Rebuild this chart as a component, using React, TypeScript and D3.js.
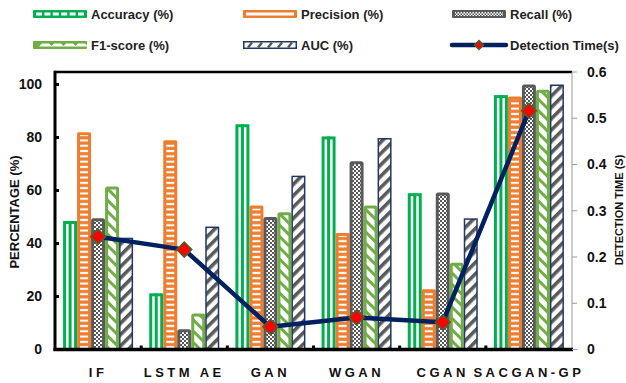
import React from "react";
import * as d3 from "d3";

const categories = ["IF", "LSTM AE", "GAN", "WGAN", "CGAN", "SACGAN-GP"];
const accuracy = [48.5, 21.2, 85, 80.4, 59, 96];
const precision = [82, 79, 54.3, 44, 22.7, 95.5];
const recall = [49.5, 7.6, 50, 71, 59.2, 100];
const f1score = [61.5, 13.6, 51.8, 54.3, 32.7, 98];
const auc = [42.2, 46.4, 65.6, 79.8, 49.5, 100];
const detectionTime = [0.244, 0.216, 0.049, 0.069, 0.059, 0.516];
const leftTicks = [0, 20, 40, 60, 80, 100];
const rightTicks = [0, 0.1, 0.2, 0.3, 0.4, 0.5, 0.6];

const W = 626;
const H = 383;
const plot = { left: 55, right: 572, top: 72, bottom: 349.5 };
const FONT = "'Liberation Sans', Arial, sans-serif";

const GREEN = "#00b050";
const ORANGE = "#ed7d31";
const GRAY = "#595959";
const LGREEN = "#70ad47";
const NAVY = "#1f3864";
const LINE = "#002060";

export default function App() {
  const x = d3.scaleBand<string>().domain(categories).range([plot.left, plot.right]);
  const yL = d3.scaleLinear().domain([0, 100]).range([plot.bottom, 84.5]);
  const yR = d3.scaleLinear().domain([0, 0.6]).range([plot.bottom, plot.top]);
  const bw = 14;
  const cx = (c: string) => (x(c) as number) + x.bandwidth() / 2;
  const bx = (c: string, i: number) => cx(c) + (i - 2) * bw - bw / 2;

  const line = d3
    .line<number>()
    .x((_, i) => cx(categories[i]))
    .y((d) => yR(d));

  const diamond = (px: number, py: number, r: number) =>
    `M${px},${py - r}L${px + r},${py}L${px},${py + r}L${px - r},${py}Z`;

  const bars: React.ReactNode[] = [];
  categories.forEach((c, ci) => {
    // Accuracy: outlined with a centre stripe
    {
      const x0 = bx(c, 0);
      const y0 = yL(accuracy[ci]);
      const h = plot.bottom - y0;
      bars.push(
        <g key={`a${ci}`}>
          <rect x={x0 + 1.5} y={y0 + 1.5} width={bw - 3} height={h - 1.5} fill="#fff" stroke={GREEN} strokeWidth={3} />
          <rect x={x0 + bw / 2 - 1.5} y={y0} width={3} height={h} fill={GREEN} />
        </g>
      );
    }
    // Precision: orange with white horizontal bars
    {
      const x0 = bx(c, 1);
      const y0 = yL(precision[ci]);
      const h = plot.bottom - y0;
      bars.push(
        <g key={`p${ci}`}>
          <rect x={x0} y={y0} width={bw} height={h} fill={ORANGE} rx={1.5} />
          <rect x={x0 + 3} y={y0 + 3} width={bw - 6} height={h - 3} fill="url(#hstripe)" />
        </g>
      );
    }
    // Recall: checkerboard
    {
      const x0 = bx(c, 2);
      const y0 = yL(recall[ci]);
      const h = plot.bottom - y0;
      bars.push(
        <rect key={`r${ci}`} x={x0 + 1.5} y={y0 + 1.5} width={bw - 3} height={h - 1.5} fill="url(#checker)" stroke={GRAY} strokeWidth={3} rx={1} />
      );
    }
    // F1: green diagonal hatch
    {
      const x0 = bx(c, 3);
      const y0 = yL(f1score[ci]);
      const h = plot.bottom - y0;
      bars.push(
        <g key={`f${ci}`}>
          <rect x={x0 + 1.5} y={y0 + 1.5} width={bw - 3} height={h - 1.5} fill="#fff" />
          <rect x={x0 + 1.5} y={y0 + 1.5} width={bw - 3} height={h - 1.5} fill="url(#dhatch)" stroke={LGREEN} strokeWidth={3} rx={1} />
        </g>
      );
    }
    // AUC: grey wide upward diagonal
    {
      const x0 = bx(c, 4);
      const y0 = yL(auc[ci]);
      const h = plot.bottom - y0;
      bars.push(
        <g key={`u${ci}`}>
          <rect x={x0 + 0.75} y={y0 + 0.75} width={bw - 1.5} height={h - 0.75} fill="#fff" />
          <rect x={x0 + 0.75} y={y0 + 0.75} width={bw - 1.5} height={h - 0.75} fill="url(#uhatch)" stroke={NAVY} strokeWidth={1.5} />
        </g>
      );
    }
  });

  const legendRows = [
    { y: 14, items: [
      { kind: "acc", x: 33, label: "Accuracy (%)" },
      { kind: "prec", x: 243, label: "Precision (%)" },
      { kind: "rec", x: 452, label: "Recall (%)" },
    ] },
    { y: 45, items: [
      { kind: "f1", x: 33, label: "F1-score (%)" },
      { kind: "auc", x: 243, label: "AUC (%)" },
      { kind: "time", x: 452, label: "Detection Time(s)" },
    ] },
  ];

  const swatch = (kind: string, sx: number, sy: number) => {
    const w = 54;
    const h = 8;
    const top = sy - h / 2;
    switch (kind) {
      case "acc":
        return (
          <g>
            <rect x={sx} y={top} width={w} height={h} fill={GREEN} rx={1} />
            {d3.range(6).map((k) => (
              <rect key={k} x={sx + 3 + k * 8.4} y={top + 2.5} width={6} height={3} fill="#fff" />
            ))}
          </g>
        );
      case "prec":
        return (
          <g>
            <rect x={sx} y={top} width={w} height={h} fill={ORANGE} rx={1} />
            <rect x={sx + 3} y={top + 2.5} width={w - 6} height={3} fill="#fff" />
          </g>
        );
      case "rec":
        return (
          <g>
            <rect x={sx} y={top} width={w} height={h} fill={GRAY} rx={1} />
            <rect x={sx + 3} y={top + 2} width={w - 6} height={4} fill="url(#checkerSmall)" />
          </g>
        );
      case "f1":
        return (
          <g>
            <rect x={sx} y={top} width={w} height={h} fill={LGREEN} rx={1} />
            {d3.range(4).map((k) => (
              <path key={k} d={`M${sx + 6 + k * 12},${top + 5.5}l3,-3h7l3,3z`} fill="#fff" />
            ))}
          </g>
        );
      case "auc":
        return (
          <g>
            <rect x={sx + 0.75} y={top + 0.75} width={w - 1.5} height={h - 1.5} fill="#fff" stroke={NAVY} strokeWidth={1.5} />
            {d3.range(5).map((k) => (
              <path key={k} d={`M${sx + 5 + k * 10},${top + 6.5}l4,-5`} stroke={GRAY} strokeWidth={2.5} />
            ))}
          </g>
        );
      default:
        return (
          <g>
            <line x1={sx} x2={sx + w} y1={sy} y2={sy} stroke={LINE} strokeWidth={4.5} strokeLinecap="round" />
            <path d={diamond(sx + w / 2, sy, 4.5)} fill="#ff0000" stroke="#4f6228" strokeWidth={1.5} />
          </g>
        );
    }
  };

  return (
    <svg width={W} height={H} style={{ position: "absolute", left: 0, top: 0, background: "#fff" }} fontFamily={FONT}>
      <defs>
        <pattern id="hstripe" patternUnits="userSpaceOnUse" width={20} height={5.3}>
          <rect x={0} y={1.6} width={20} height={2.1} fill="#fff" />
        </pattern>
        <pattern id="checker" patternUnits="userSpaceOnUse" width={4} height={4}>
          <rect width={4} height={4} fill="#fff" />
          <rect x={0} y={0} width={2} height={2} fill={GRAY} />
          <rect x={2} y={2} width={2} height={2} fill={GRAY} />
        </pattern>
        <pattern id="checkerSmall" patternUnits="userSpaceOnUse" width={3} height={3}>
          <rect width={3} height={3} fill="#fff" />
          <rect x={0} y={0} width={1.5} height={1.5} fill={GRAY} />
          <rect x={1.5} y={1.5} width={1.5} height={1.5} fill={GRAY} />
        </pattern>
        <pattern id="dhatch" patternUnits="userSpaceOnUse" width={8} height={8} patternTransform="rotate(45)">
          <rect x={0} y={0} width={8} height={3} fill={LGREEN} />
        </pattern>
        <pattern id="uhatch" patternUnits="userSpaceOnUse" width={8} height={8} patternTransform="rotate(-45)">
          <rect x={0} y={0} width={8} height={3.6} fill={GRAY} />
        </pattern>
      </defs>

      {/* legend */}
      {legendRows.map((row, ri) =>
        row.items.map((it, ii) => (
          <g key={`${ri}-${ii}`}>
            {swatch(it.kind, it.x, row.y)}
            <text x={it.x + 58} y={row.y} dy="0.35em" fontSize={13} fontWeight="bold" fill="#222">
              {it.label}
            </text>
          </g>
        ))
      )}

      {/* bars */}
      {bars}

      {/* frame */}
      <line x1={plot.left} x2={plot.right} y1={plot.top} y2={plot.top} stroke="#000" strokeWidth={2.5} />
      <line x1={plot.right} x2={plot.right} y1={plot.top} y2={plot.bottom} stroke="#999" strokeWidth={1} />
      <line x1={plot.left} x2={plot.left} y1={plot.top - 1.25} y2={plot.bottom + 1.5} stroke="#000" strokeWidth={3} />
      <line x1={plot.left - 1.5} x2={plot.right + 1} y1={plot.bottom} y2={plot.bottom} stroke="#000" strokeWidth={3.5} />

      {/* left axis ticks */}
      {leftTicks.map((t) => (
        <g key={`l${t}`}>
          <line x1={plot.left} x2={plot.left + 4} y1={yL(t)} y2={yL(t)} stroke="#000" strokeWidth={3} />
          <text x={42} y={yL(t)} dy="0.35em" textAnchor="end" fontSize={14} fontWeight="bold" fill="#111">
            {t}
          </text>
        </g>
      ))}

      {/* category separators */}
      {categories.slice(1).map((c) => (
        <rect key={`s${c}`} x={(x(c) as number) - 1.5} y={plot.bottom - 4} width={3} height={3} fill="#000" />
      ))}

      {/* right axis ticks */}
      {rightTicks.map((t) => (
        <g key={`r${t}`}>
          <line x1={plot.right} x2={plot.right + 5} y1={yR(t)} y2={yR(t)} stroke="#999" strokeWidth={1} />
          <text x={587} y={yR(t)} dy="0.35em" fontSize={14} fontWeight="bold" fill="#111">
            {t === 0 ? "0" : d3.format(".1f")(t)}
          </text>
        </g>
      ))}

      {/* category labels */}
      {categories.map((c) => (
        <text key={`c${c}`} x={cx(c)} y={372} dy="0.35em" textAnchor="middle" fontSize={13} fontWeight="bold" letterSpacing={3.5} fill="#111">
          {c}
        </text>
      ))}

      {/* axis titles */}
      <text transform="translate(19,212) rotate(-90)" textAnchor="middle" fontSize={13} fontWeight="bold" fill="#111">
        PERCENTAGE (%)
      </text>
      <text transform="translate(623,210) rotate(-90)" textAnchor="middle" fontSize={11} fontWeight="bold" fill="#111">
        DETECTION TIME (S)
      </text>

      {/* detection time line */}
      <path d={line(detectionTime) || ""} fill="none" stroke={LINE} strokeWidth={4.5} strokeLinejoin="round" />
      {detectionTime.map((v, i) => (
        <path key={`m${i}`} d={diamond(cx(categories[i]), yR(v), 7.5)} fill="#ff0000" stroke="#4f6228" strokeWidth={1.5} />
      ))}
    </svg>
  );
}
